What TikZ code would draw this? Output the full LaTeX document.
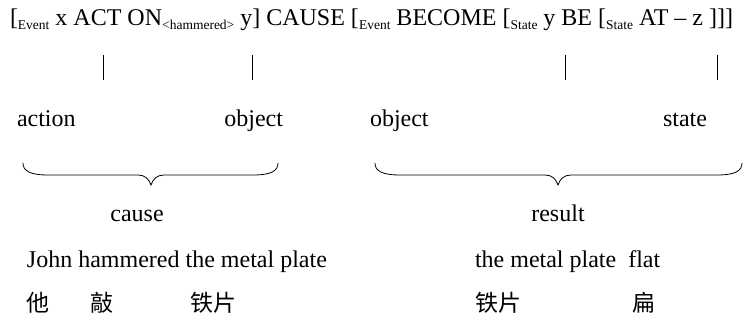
\documentclass[tikz,border=0pt]{standalone}
\usepackage{fontspec}
\setmainfont{Liberation Serif}
\newfontfamily\cjk{Noto Sans CJK SC}
\newcommand{\subx}[1]{\raisebox{-4pt}{\fontsize{13.5}{14}\selectfont #1}}
\begin{document}
\begin{tikzpicture}[x=1pt,y=-1pt,
  txt/.style={inner sep=0pt,outer sep=0pt,font=\fontsize{24}{28}\selectfont},
  cjktxt/.style={inner sep=0pt,outer sep=0pt,font=\fontsize{23}{28}\selectfont\cjk},
  bar/.style={line width=0.8pt},
  brace/.style={line width=0.8pt}]
\useasboundingbox (0,0) rectangle (754,328);
% top formula
\node[txt,anchor=base west] (formula) at (10,26) {[\subx{Event} x ACT ON\subx{<hammered>} y] CAUSE [\subx{Event} BECOME [\subx{State} y BE [\subx{State} AT \textendash{} z ]]]};
% vertical bars
\coordinate (b1t) at (103,55); \coordinate (b1b) at (103,80);
\coordinate (b2t) at (252,55); \coordinate (b2b) at (252,80);
\coordinate (b3t) at (565,55); \coordinate (b3b) at (565,80);
\coordinate (b4t) at (717,55); \coordinate (b4b) at (717,80);
\draw[bar] (b1t) -- (b1b);
\draw[bar] (b2t) -- (b2b);
\draw[bar] (b3t) -- (b3b);
\draw[bar] (b4t) -- (b4b);
% labels
\node[txt,anchor=base west] (action) at (17,127) {action};
\node[txt,anchor=base east] (object1) at (283,127) {object};
\node[txt,anchor=base west] (object2) at (370,127) {object};
\node[txt,anchor=base east] (state) at (707,127) {state};
% braces
\draw[brace] (23,163) .. controls (23,171) and (30,175) .. (48,175) -- (138,175)
  .. controls (145,175) and (149,179) .. (151,185)
  .. controls (153,179) and (157,175) .. (164,175) -- (253,175)
  .. controls (271,175) and (278,171) .. (278,163);
\draw[brace] (375,163) .. controls (375,171) and (382,175) .. (400,175) -- (545,175)
  .. controls (552,175) and (556,179) .. (558,185)
  .. controls (560,179) and (564,175) .. (571,175) -- (717,175)
  .. controls (735,175) and (742,171) .. (742,163);
% cause / result
\node[txt,anchor=base] (cause) at (137,222) {cause};
\node[txt,anchor=base] (result) at (558,222) {result};
% sentences
\node[txt,anchor=base west] (john) at (27,268) {John hammered the metal plate};
\node[txt,anchor=base west] (plate) at (475,268) {the metal plate\ \ flat};
% chinese
\node[cjktxt,anchor=base west] (ta) at (27,312) {他};
\node[cjktxt,anchor=base west] (qiao) at (90,312) {敲};
\node[cjktxt,anchor=base west] (tiepian1) at (190,312) {铁片};
\node[cjktxt,anchor=base west] (tiepian2) at (475,312) {铁片};
\node[cjktxt,anchor=base west] (bian) at (632,312) {扁};
\end{tikzpicture}
\end{document}
